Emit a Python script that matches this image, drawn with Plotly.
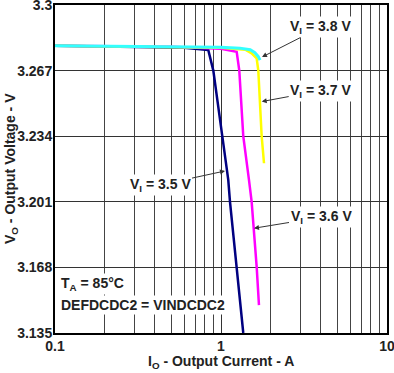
import plotly.graph_objects as go

# Data
I_35 = [0.1, 0.3, 0.6, 0.838, 0.899, 1.018, 1.106, 1.133, 1.243, 1.362]
V_35 = [3.2795, 3.279, 3.2785, 3.2774, 3.267, 3.234, 3.212, 3.201, 3.168, 3.135]

I_36 = [0.1, 0.5, 1.0, 1.243, 1.289, 1.362, 1.474, 1.53, 1.641, 1.693]
V_36 = [3.2795, 3.279, 3.278, 3.2765, 3.267, 3.234, 3.212, 3.201, 3.168, 3.149]

I_37 = [0.1, 0.5, 1.0, 1.4, 1.53, 1.64, 1.678, 1.758, 1.816]
V_37 = [3.2795, 3.279, 3.2785, 3.2775, 3.2757, 3.2732, 3.267, 3.234, 3.2204]

I_38 = [0.1, 0.5, 1.0, 1.3, 1.5, 1.6, 1.678, 1.718]
V_38 = [3.2795, 3.279, 3.2787, 3.2783, 3.2775, 3.276, 3.274, 3.2723]

x_ticks = [0.1, 1, 10]
x_tick_labels = ["0.1", "1", "10"]
x_minor = [0.2, 0.3, 0.4, 0.5, 0.6, 0.7, 0.8, 0.9, 2, 3, 4, 5, 6, 7, 8, 9]
y_ticks = [3.135, 3.168, 3.201, 3.234, 3.267, 3.3]
y_tick_labels = ["3.135", "3.168", "3.201", "3.234", "3.267", "3.3"]

FONT = "Liberation Sans, Arial, sans-serif"
TXT = "#222222"

fig = go.Figure()
series = [
    (I_35, V_35, "#000080", 2.5),
    (I_36, V_36, "#FF00FF", 2.5),
    (I_37, V_37, "#FFFF00", 2.5),
    (I_38, V_38, "#33FFFF", 3),
]
for xs, ys, c, w in series:
    fig.add_trace(go.Scatter(x=xs, y=ys, mode="lines",
                             line=dict(color=c, width=w), showlegend=False))

ann_font = dict(family=FONT, size=14, color=TXT, weight="bold")
ann_common = dict(showarrow=True, arrowhead=2, arrowsize=1, arrowwidth=1,
                  arrowcolor="#333333", bgcolor="white", font=ann_font)
fig.add_annotation(x=0.2469, y=3.2738, xref="x", yref="y", ax=59, ay=-30,
                   text="V<sub>I</sub> = 3.8 V", **ann_common)
fig.add_annotation(x=0.2452, y=3.2514, xref="x", yref="y", ax=59, ay=-11,
                   text="V<sub>I</sub> = 3.7 V", **ann_common)
fig.add_annotation(x=0.1988, y=3.1877, xref="x", yref="y", ax=67, ay=-11,
                   text="V<sub>I</sub> = 3.6 V", **ann_common)
fig.add_annotation(x=0.0241, y=3.2165, xref="x", yref="y", ax=-65, ay=14,
                   text="V<sub>I</sub> = 3.5 V", **ann_common)

fig.add_annotation(x=0.012, y=3.1597, xref="paper", yref="y", xanchor="left",
                   showarrow=False, bgcolor="white", font=ann_font,
                   text="T<sub>A</sub> = 85°C")
fig.add_annotation(x=0.012, y=3.1491, xref="paper", yref="y", xanchor="left",
                   showarrow=False, bgcolor="white", font=ann_font,
                   text="DEFDCDC2 = VINDCDC2")

# axis titles
fig.add_annotation(x=0.5, y=-0.088, xref="paper", yref="paper",
                   xanchor="center", yanchor="middle", showarrow=False,
                   font=ann_font, text="I<sub>O</sub> - Output Current - A")
fig.add_annotation(x=-0.1325, y=0.5, xref="paper", yref="paper",
                   xanchor="center", yanchor="middle", showarrow=False,
                   textangle=-90, font=ann_font,
                   text="V<sub>O</sub> - Output Voltage - V")

fig.update_layout(
    width=394, height=373,
    margin=dict(l=55, r=7, t=5, b=40),
    paper_bgcolor="white", plot_bgcolor="white",
    font=dict(family=FONT, size=14, color=TXT, weight="bold"),
)
tick_font = dict(family=FONT, size=14, color=TXT, weight="bold")
fig.update_xaxes(
    type="log", range=[-1, 1], automargin=False,
    tickmode="array", tickvals=x_ticks, ticktext=x_tick_labels,
    ticklabeloverflow="allow", ticklabelstandoff=-1,
    showgrid=True, gridcolor="#333333", gridwidth=1,
    minor=dict(tickmode="array", tickvals=x_minor, showgrid=True,
               gridcolor="#444444", gridwidth=1),
    showline=True, linecolor="black", linewidth=2, mirror=True,
    ticks="", zeroline=False, tickfont=tick_font,
)
fig.update_yaxes(
    range=[3.135, 3.3], automargin=False,
    tickmode="array", tickvals=y_ticks, ticktext=y_tick_labels,
    ticklabeloverflow="allow", ticklabelstandoff=-2,
    showgrid=True, gridcolor="#333333", gridwidth=1,
    showline=True, linecolor="black", linewidth=2, mirror=True,
    ticks="", zeroline=False, tickfont=tick_font,
)

fig.write_html("out.html", config={"displayModeBar": False},
               post_script="document.body.style.margin='0';")
